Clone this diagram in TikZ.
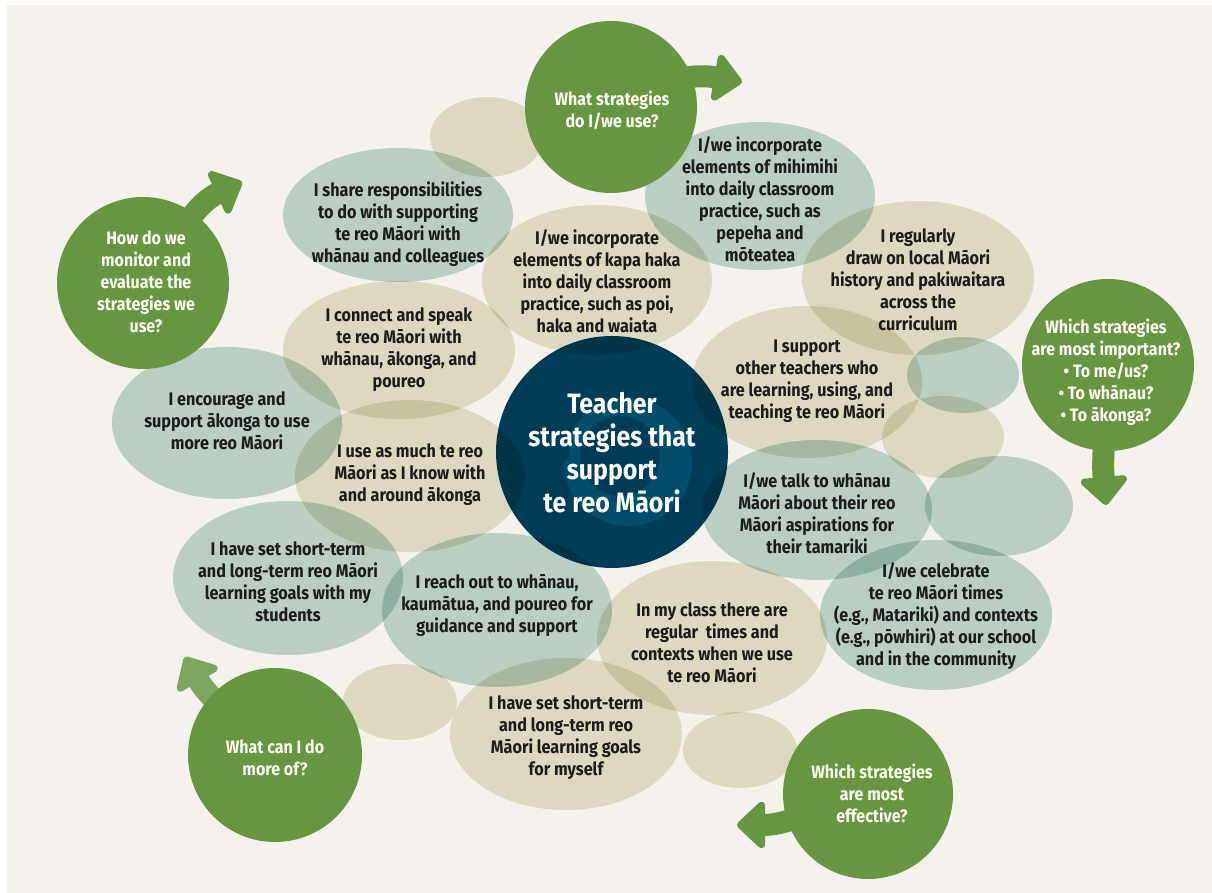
\documentclass[tikz,border=0pt]{standalone}
\usepackage{fontspec}
\setmainfont{Fira Sans}[FakeStretch=0.89]
\usetikzlibrary{shapes.geometric, arrows.meta, positioning, calc}

\definecolor{cream}{RGB}{245,242,237}
\definecolor{sage}{RGB}{194,218,211}
\definecolor{sand}{RGB}{230,229,207}
\definecolor{leaf}{RGB}{102,150,66}
\definecolor{navy}{RGB}{0,60,88}
\definecolor{navylt}{RGB}{0,78,108}
\definecolor{ink}{RGB}{28,28,28}

\begin{document}
\begin{tikzpicture}[
        x=1pt, y=1pt,
        sagebub/.style={fill=sage, blend mode=multiply},
        sandbub/.style={fill=sand, blend mode=multiply},
        qcircle/.style={fill=leaf},
        bigarrow/.style={draw=leaf, line width=22pt, -{Triangle[width=54pt, length=30pt, round]}},
        txt/.style={font=\fontsize{18.2}{22}\selectfont\bfseries, text=ink, align=center},
        qtxt/.style={font=\fontsize{18}{22}\selectfont\bfseries, text=white!95!yellow, align=center}
    ]
        % Page
        \useasboundingbox (0,0) rectangle (1212,893);
        \fill[white] (0,0) rectangle (1212,893);
        \fill[cream] (7,0) rectangle (1212,888);

        % Centre circle with its koru
        \fill[navy] (612,441) circle (116);
        \fill[navylt, even odd rule] (628,431) circle (64) (620,437) circle (40);
        \fill[navy] (560,441) circle (10);

        % Sage bubbles
        \fill[sagebub] (398,678) ellipse [x radius=115, y radius=67];
        \fill[sagebub] (760,697) ellipse [x radius=115, y radius=74];
        \fill[sagebub] (227,470) ellipse [x radius=115, y radius=76];
        \fill[sagebub] (817,383) ellipse [x radius=115, y radius=70];
        \fill[sagebub] (288,315) ellipse [x radius=115, y radius=77];
        \fill[sagebub] (497,283) ellipse [x radius=115, y radius=77];
        \fill[sagebub] (936,278) ellipse [x radius=116, y radius=75];
        \fill[sagebub] (963,518) ellipse [x radius=56, y radius=38];
        \fill[sagebub] (999,387) ellipse [x radius=74, y radius=50];

        % Sand bubbles
        \fill[sandbub] (597,613) ellipse [x radius=115, y radius=75];
        \fill[sandbub] (918,615) ellipse [x radius=116, y radius=77];
        \fill[sandbub] (399,543) ellipse [x radius=116, y radius=69];
        \fill[sandbub] (410,417) ellipse [x radius=115, y radius=76];
        \fill[sandbub] (807,511) ellipse [x radius=115, y radius=76];
        \fill[sandbub] (712,255) ellipse [x radius=115, y radius=77];
        \fill[sandbub] (566,159) ellipse [x radius=116, y radius=76];
        \fill[sandbub] (487,756) ellipse [x radius=57, y radius=40];
        \fill[sandbub] (943,456) ellipse [x radius=61, y radius=41];
        \fill[sandbub] (400,191) ellipse [x radius=57, y radius=38];
        \fill[sandbub] (740,143) ellipse [x radius=57, y radius=38];

        % Question circles and their arrows
        \coordinate (useTip) at (742,811);
        \coordinate (monTip) at (242,711);
        \coordinate (impTip) at (1106,388);
        \coordinate (effTip) at (737,68);
        \coordinate (moreTip) at (185,236);

        \coordinate (useC) at (611,786);
        \coordinate (monC) at (143,610);
        \coordinate (impC) at (1108,528);
        \coordinate (effC) at (868,99);
        \coordinate (moreC) at (275,138);

        \draw[bigarrow] (useC) to[out=30, in=170] (useTip);
        \draw[bigarrow] (monC) to[out=50, in=205] (monTip);
        \draw[bigarrow] (impC) to[out=-90, in=95] (impTip);
        \draw[bigarrow] (effC) to[out=195, in=0] (effTip);
        \draw[bigarrow, draw=leaf!85!white] (moreC) to[out=135, in=-60] (moreTip);

        \fill[qcircle] (useC) circle (86);
        \fill[qcircle] (monC) circle (86);
        \fill[qcircle] (impC) circle (86);
        \fill[qcircle] (effC) circle (85);
        \fill[qcircle] (moreC) circle (87);

        % Question texts
        \node[qtxt] (qUse) at (612,783) {What strategies\\do I/we use?};
        \node[qtxt] (qMonitor) at (146,611) {How do we\\monitor and\\evaluate the\\strategies we\\use?};
        \node[qtxt] (qImportant) at (1106,521) {Which strategies\\are most important?\\• To me/us?\\• To whānau?\\• To ākonga?};
        \node[qtxt] (qEffective) at (872,100) {Which strategies\\are most\\effective?};
        \node[qtxt] (qMore) at (275,135) {What can I do\\more of?};

        % Strategy texts
        \node[txt] (share) at (398,669) {I share responsibilities\\to do with supporting\\te reo Māori with\\whānau and colleagues};
        \node[txt] (kapa) at (597,612) {I/we incorporate\\elements of kapa haka\\into daily classroom\\practice, such as poi,\\haka and waiata};
        \node[txt] (mihi) at (760,694) {I/we incorporate\\elements of mihimihi\\into daily classroom\\practice, such as\\pepeha and\\mōteatea};
        \node[txt] (history) at (918,613) {I regularly\\draw on local Māori\\history and pakiwaitara\\across the\\curriculum};
        \node[txt] (speak) at (399,543) {I connect and speak\\te reo Māori with\\whānau, ākonga, and\\poureo};
        \node[txt] (encourage) at (227,472) {I encourage and\\support ākonga to use\\more reo Māori};
        \node[txt] (asMuch) at (410,418) {I use as much te reo\\Māori as I know with\\and around ākonga};
        \node[txt] (peers) at (807,512) {I support\\other teachers who\\are learning, using, and\\teaching te reo Māori};
        \node[txt] (talk) at (817,380) {I/we talk to whānau\\Māori about their reo\\Māori aspirations for\\their tamariki};
        \node[txt] (goalsKids) at (288,311) {I have set short-term\\and long-term reo Māori\\learning goals with my\\students};
        \node[txt] (reach) at (497,287) {I reach out to whānau,\\kaumātua, and poureo for\\guidance and support};
        \node[txt] (times) at (712,250) {In my class there are\\regular\ \ times and\\contexts when we use\\te reo Māori};
        \node[txt] (celebrate) at (936,277) {I/we celebrate\\te reo Māori times\\(e.g., Matariki) and contexts\\(e.g., pōwhiri) at our school\\and in the community};
        \node[txt] (goalsMe) at (566,155) {I have set short-term\\and long-term reo\\Māori learning goals\\for myself};

        % Centre title
        \node[font=\fontsize{28}{33}\selectfont\bfseries, text=white, align=center] (title) at (612,440) {Teacher\\strategies that\\support\\te reo Māori};
    \end{tikzpicture}
\end{document}
